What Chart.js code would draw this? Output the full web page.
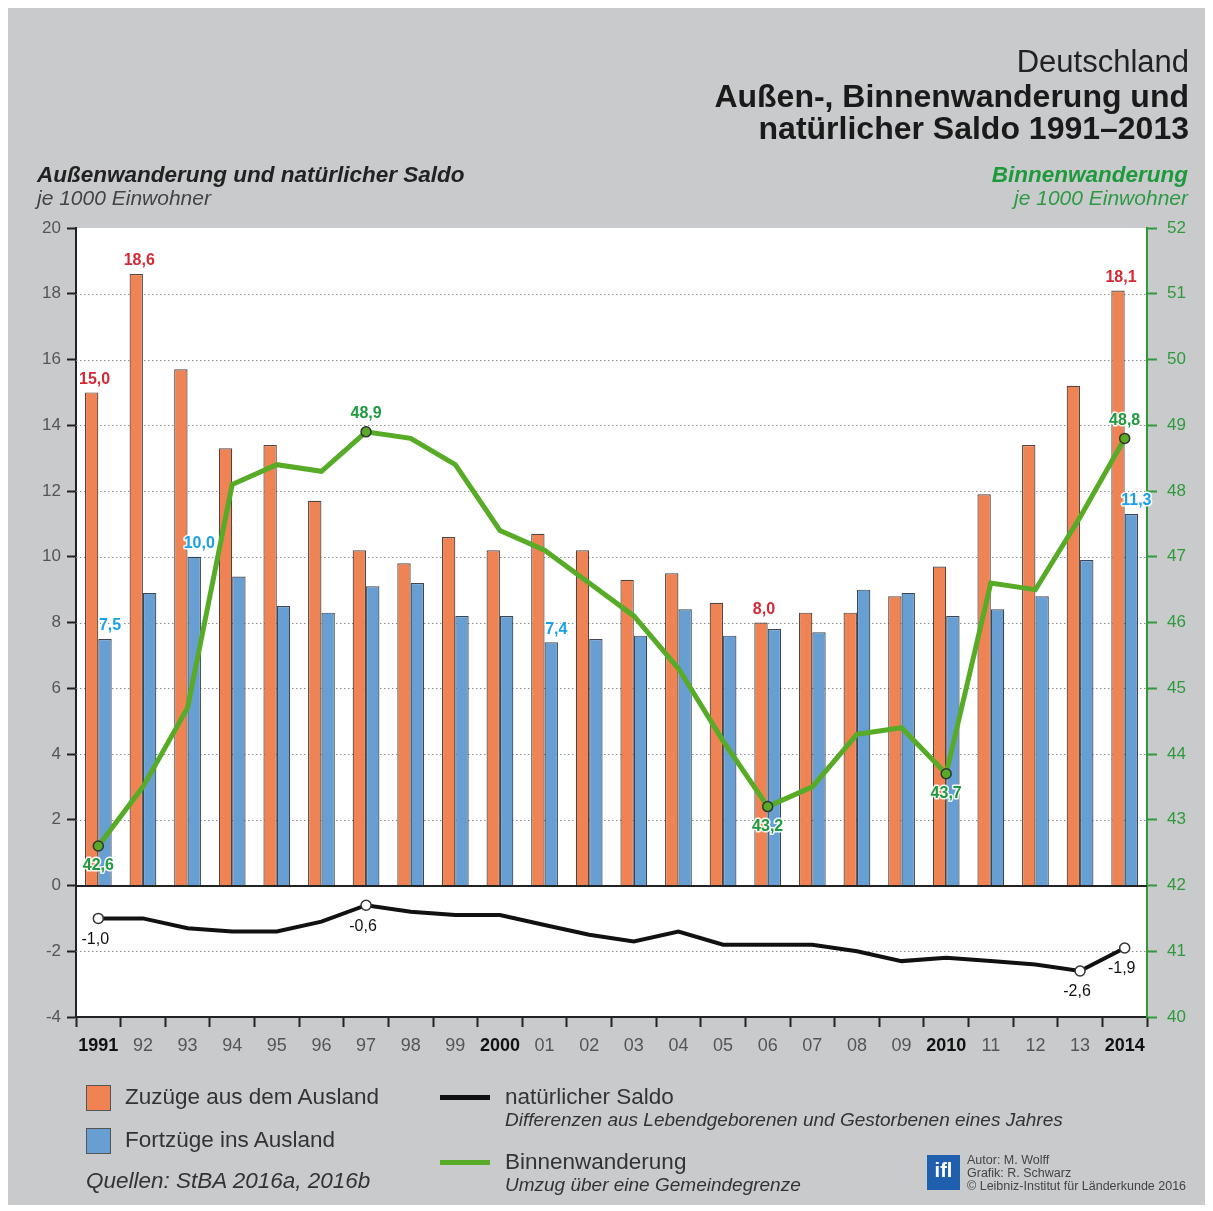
<!DOCTYPE html>
<html lang="de">
<head>
<meta charset="utf-8">
<title>Außen-, Binnenwanderung und natürlicher Saldo 1991–2013</title>
<script src="https://cdn.jsdelivr.net/npm/chart.js@4.4.1/dist/chart.umd.min.js"></script>
<style>
body { margin: 0; background: #fff; font-family: "Liberation Sans", Arial, sans-serif; }
#page { position: relative; width: 1213px; height: 1211px; overflow: hidden; }
#frame { position: absolute; left: 8px; top: 8px; width: 1197px; height: 1197px; background: #c9cacc; }
#chart { position: absolute; left: 0; top: 0; }
.t { position: absolute; white-space: nowrap; line-height: 1; }
.r { text-align: right; right: 24px; }
.sq { position: absolute; width: 23px; height: 24px; border: 1px solid #555; }
.ln { position: absolute; width: 50px; height: 5px; }
</style>
</head>
<body>
<div id="page">
  <div id="frame"></div>
  <canvas id="chart" width="1213" height="1211"></canvas>

  <div class="t r" style="top:46px;font-size:31px;color:#222;">Deutschland</div>
  <div class="t r" style="top:80px;font-size:32px;font-weight:bold;color:#1a1a1a;">Außen-, Binnenwanderung und</div>
  <div class="t r" style="top:112px;font-size:32px;font-weight:bold;color:#1a1a1a;">natürlicher Saldo 1991–2013</div>

  <div class="t" style="left:37px;top:164px;font-size:22.5px;font-weight:bold;font-style:italic;color:#222;">Außenwanderung und natürlicher Saldo</div>
  <div class="t" style="left:37px;top:187px;font-size:21px;font-style:italic;color:#444;">je 1000 Einwohner</div>
  <div class="t r" style="right:25px;top:164px;font-size:22.5px;font-weight:bold;font-style:italic;color:#1e9a3c;">Binnenwanderung</div>
  <div class="t r" style="right:25px;top:187px;font-size:21px;font-style:italic;color:#2e9a44;">je 1000 Einwohner</div>

  <div class="sq" style="left:86px;top:1085px;background:#ef8354;"></div>
  <div class="t" style="left:125px;top:1086px;font-size:22.5px;color:#333;">Zuzüge aus dem Ausland</div>
  <div class="sq" style="left:86px;top:1128px;background:#679fd3;"></div>
  <div class="t" style="left:125px;top:1129px;font-size:22.5px;color:#333;">Fortzüge ins Ausland</div>
  <div class="t" style="left:86px;top:1170px;font-size:22.5px;font-style:italic;color:#333;">Quellen: StBA 2016a, 2016b</div>

  <div class="ln" style="left:440px;top:1095px;background:#111;"></div>
  <div class="t" style="left:505px;top:1086px;font-size:22.5px;color:#333;">natürlicher Saldo</div>
  <div class="t" style="left:505px;top:1110px;font-size:19px;font-style:italic;color:#333;">Differenzen aus Lebendgeborenen und Gestorbenen eines Jahres</div>
  <div class="ln" style="left:440px;top:1160px;background:#57ab27;"></div>
  <div class="t" style="left:505px;top:1151px;font-size:22.5px;color:#333;">Binnenwanderung</div>
  <div class="t" style="left:505px;top:1175px;font-size:19px;font-style:italic;color:#333;">Umzug über eine Gemeindegrenze</div>

  <div class="t" style="left:927px;top:1155px;width:33px;height:35px;background:#1f5fae;color:#fff;font-size:20px;font-weight:bold;line-height:30px;text-align:center;">ifl</div>
  <div class="t" style="left:967px;top:1154px;font-size:12.5px;color:#444;">Autor: M. Wolff</div>
  <div class="t" style="left:967px;top:1167px;font-size:12.5px;color:#444;">Grafik: R. Schwarz</div>
  <div class="t" style="left:967px;top:1180px;font-size:12.5px;color:#444;">© Leibniz-Institut für Länderkunde 2016</div>
</div>

<script>
// Jahre (Achsenbeschriftung)
var years = ["1991", "92", "93", "94", "95", "96", "97", "98", "99", "2000", "01", "02",
             "03", "04", "05", "06", "07", "08", "09", "2010", "11", "12", "13", "2014"];

// je 1000 Einwohner
var zuzuege = [15.0, 18.6, 15.7, 13.3, 13.4, 11.7, 10.2, 9.8, 10.6, 10.2, 10.7, 10.2,
               9.3, 9.5, 8.6, 8.0, 8.3, 8.3, 8.8, 9.7, 11.9, 13.4, 15.2, 18.1];
var fortzuege = [7.5, 8.9, 10.0, 9.4, 8.5, 8.3, 9.1, 9.2, 8.2, 8.2, 7.4, 7.5,
                 7.6, 8.4, 7.6, 7.8, 7.7, 9.0, 8.9, 8.2, 8.4, 8.8, 9.9, 11.3];
var binnen = [42.6, 43.5, 44.7, 48.1, 48.4, 48.3, 48.9, 48.8, 48.4, 47.4, 47.1, 46.6,
              46.1, 45.3, 44.2, 43.2, 43.5, 44.3, 44.4, 43.7, 46.6, 46.5, 47.6, 48.8];
var saldo = [-1.0, -1.0, -1.3, -1.4, -1.4, -1.1, -0.6, -0.8, -0.9, -0.9, -1.2, -1.5,
             -1.7, -1.4, -1.8, -1.8, -1.8, -2.0, -2.3, -2.2, -2.3, -2.4, -2.6, -1.9];

// Welche Jahre beschriftet werden
var zuzLabels = [0, 1, 15, 23];
var fortLabels = [0, 2, 10, 23];
var binnenLabels = [0, 6, 15, 19, 23];
var saldoLabels = [0, 6, 22, 23];

var FONT = '"Liberation Sans", Arial, sans-serif';
var green = '#57ab27';

function fmt(v) { return v.toFixed(1).replace('.', ','); }

var backdrop = {
    id: 'backdrop',
    beforeDraw: function(chart) {
        var ctx = chart.ctx, a = chart.chartArea;
        ctx.save();
        ctx.fillStyle = '#fff';
        ctx.fillRect(a.left, a.top, a.right - a.left, a.bottom - a.top);
        ctx.restore();
    },
    beforeDatasetsDraw: function(chart) {
        var ctx = chart.ctx, a = chart.chartArea, y = chart.scales.y;
        ctx.save();
        ctx.strokeStyle = '#8c8c8c';
        ctx.lineWidth = 1;
        ctx.setLineDash([1.5, 2.5]);
        y.ticks.forEach(function(t) {
            if (t.value === 0 || t.value === y.max || t.value === y.min) return;
            var py = Math.round(y.getPixelForValue(t.value)) + 0.5;
            ctx.beginPath();
            ctx.moveTo(a.left, py);
            ctx.lineTo(a.right, py);
            ctx.stroke();
        });
        ctx.setLineDash([]);
        ctx.strokeStyle = '#222';
        ctx.lineWidth = 2;
        var z = Math.round(y.getPixelForValue(0));
        ctx.beginPath();
        ctx.moveTo(a.left, z);
        ctx.lineTo(a.right, z);
        ctx.stroke();
        ctx.restore();
    }
};

var valueLabels = {
    id: 'valueLabels',
    afterDatasetsDraw: function(chart) {
        var ctx = chart.ctx;
        function put(dsIndex, idxList, values, color, weight, halo, place) {
            var meta = chart.getDatasetMeta(dsIndex);
            ctx.save();
            ctx.font = weight + ' 16px ' + FONT;
            ctx.textAlign = 'center';
            ctx.textBaseline = 'middle';
            idxList.forEach(function(i) {
                var el = meta.data[i];
                var p = place(el, i);
                var txt = fmt(values[i]);
                if (halo) {
                    ctx.strokeStyle = 'rgba(255,255,255,0.9)';
                    ctx.lineWidth = 3;
                    ctx.lineJoin = 'round';
                    ctx.strokeText(txt, p.x, p.y);
                }
                ctx.fillStyle = color;
                ctx.fillText(txt, p.x, p.y);
            });
            ctx.restore();
        }
        put(0, zuzLabels, zuzuege, '#d42a36', 'bold', false, function(el) {
            return { x: el.x + 3, y: el.y - 13 };
        });
        put(1, fortLabels, fortzuege, '#1aa0e6', 'bold', true, function(el) {
            return { x: el.x + 5, y: el.y - 13 };
        });
        put(2, binnenLabels, binnen, '#1f9a40', 'bold', true, function(el, i) {
            var peak = (i === 6 || i === binnen.length - 1);
            return { x: el.x, y: peak ? el.y - 18 : el.y + 20 };
        });
        put(3, saldoLabels, saldo, '#111', 'normal', true, function(el, i) {
            return { x: el.x - 3, y: el.y + 21 };
        });
    }
};

function pointSize(list) {
    return function(c) { return list.indexOf(c.dataIndex) >= 0 ? 5 : 0; };
}

var chart = new Chart(document.getElementById('chart').getContext('2d'), {
    type: 'bar',
    data: {
        labels: years,
        datasets: [
            {
                label: 'Zuzüge aus dem Ausland',
                data: zuzuege,
                backgroundColor: '#ef8354',
                borderColor: 'rgba(60,50,45,0.9)',
                borderWidth: 1.2,
                categoryPercentage: 0.6,
                barPercentage: 1.0,
                yAxisID: 'y',
                order: 2
            },
            {
                label: 'Fortzüge ins Ausland',
                data: fortzuege,
                backgroundColor: '#679fd3',
                borderColor: 'rgba(40,50,65,0.9)',
                borderWidth: 1.2,
                categoryPercentage: 0.6,
                barPercentage: 1.0,
                yAxisID: 'y',
                order: 2
            },
            {
                type: 'line',
                label: 'Binnenwanderung',
                data: binnen,
                borderColor: green,
                borderWidth: 5,
                tension: 0,
                fill: false,
                pointRadius: pointSize(binnenLabels),
                pointBackgroundColor: green,
                pointBorderColor: '#333',
                pointBorderWidth: 1.5,
                yAxisID: 'y2',
                order: 1
            },
            {
                type: 'line',
                label: 'natürlicher Saldo',
                data: saldo,
                borderColor: '#111',
                borderWidth: 4,
                tension: 0,
                fill: false,
                pointRadius: pointSize(saldoLabels),
                pointBackgroundColor: '#fff',
                pointBorderColor: '#333',
                pointBorderWidth: 1.5,
                yAxisID: 'y',
                order: 0
            }
        ]
    },
    options: {
        responsive: false,
        animation: false,
        devicePixelRatio: 1,
        layout: { padding: { top: 228, left: 0, right: 0, bottom: 0 } },
        plugins: {
            legend: { display: false },
            tooltip: { enabled: false }
        },
        scales: {
            x: {
                grid: { offset: true, drawOnChartArea: false, drawTicks: true, tickLength: 10, tickColor: '#222', tickWidth: 2 },
                border: { color: '#222', width: 2 },
                ticks: {
                    autoSkip: false,
                    maxRotation: 0,
                    padding: 8,
                    color: function(c) { return years[c.index].length === 4 ? '#111' : '#555'; },
                    font: function(c) {
                        return { family: FONT, size: 18, weight: years[c.index].length === 4 ? 'bold' : 'normal' };
                    }
                },
                afterFit: function(s) { s.height = 194; }
            },
            y: {
                position: 'left',
                min: -4,
                max: 20,
                ticks: { stepSize: 2, color: '#555', padding: 6, font: { family: FONT, size: 17 } },
                grid: { drawOnChartArea: false, tickLength: 9, tickColor: '#222', tickWidth: 2 },
                border: { color: '#222', width: 2 },
                afterFit: function(s) { s.width = 76; }
            },
            y2: {
                position: 'right',
                min: 40,
                max: 52,
                ticks: { stepSize: 1, color: '#2f9a3c', padding: 10, font: { family: FONT, size: 17 } },
                grid: { drawOnChartArea: false, tickLength: 10, tickColor: '#2f9a3c', tickWidth: 2 },
                border: { color: '#2f9a3c', width: 2 },
                afterFit: function(s) { s.width = 66; }
            }
        }
    },
    plugins: [backdrop, valueLabels]
});
</script>
</body>
</html>
